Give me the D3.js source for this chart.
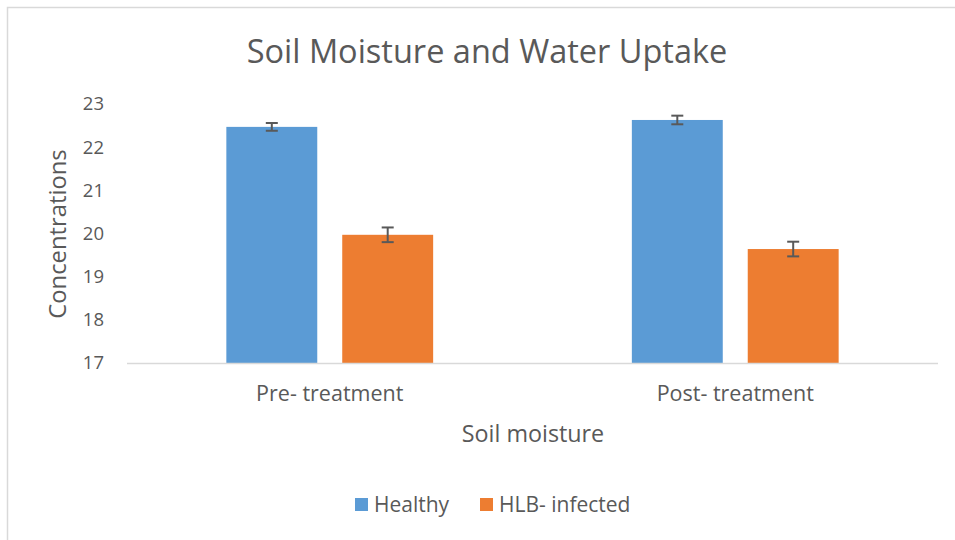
<!DOCTYPE html>
<html>
<head>
<meta charset="utf-8">
<script src="https://cdn.jsdelivr.net/npm/d3@7"></script>
<style>
  body { margin: 0; background: #fff; }
  text { font-family: "Open Sans", sans-serif; fill: #595959; }
</style>
</head>
<body>
<div id="chart"></div>
<script>
var categories = ["Pre- treatment", "Post- treatment"];
var seriesNames = ["Healthy", "HLB- infected"];
var healthy = [22.47, 22.63];
var infected = [19.97, 19.64];
var healthyErr = [0.09, 0.10];
var infectedErr = [0.17, 0.17];
var yTicks = [17, 18, 19, 20, 21, 22, 23];

var colors = ["#5b9bd5", "#ed7d31"];
var W = 955, H = 540;
var margin = { left: 127, right: 17, top: 104, bottom: 177 };

var svg = d3.select("#chart").append("svg")
    .attr("width", W).attr("height", H);

// chart frame
svg.append("rect")
    .attr("x", 7.5).attr("y", 7.5)
    .attr("width", W + 10).attr("height", H + 10)
    .attr("fill", "none").attr("stroke", "#d9d9d9").attr("stroke-width", 1.5);

var x0 = d3.scaleBand().domain(categories)
    .range([margin.left, W - margin.right]);
var off = x0.bandwidth() * 0.245;
var x1 = d3.scaleBand().domain(seriesNames)
    .range([off, x0.bandwidth() - off]).paddingInner(0.2155);
var y = d3.scaleLinear().domain([17, 23])
    .range([H - margin.bottom, margin.top]);

var data = categories.map(function(c, i) {
    return [
        { cat: c, s: seriesNames[0], v: healthy[i], e: healthyErr[i], col: colors[0] },
        { cat: c, s: seriesNames[1], v: infected[i], e: infectedErr[i], col: colors[1] }
    ];
});

var g = svg.append("g");
data.forEach(function(grp) {
    grp.forEach(function(d) {
        var bx = x0(d.cat) + x1(d.s);
        g.append("rect")
            .attr("x", bx).attr("y", y(d.v))
            .attr("width", x1.bandwidth()).attr("height", y(17) - y(d.v))
            .attr("fill", d.col);
        var cx = bx + x1.bandwidth() / 2;
        var eg = g.append("g").attr("stroke", "#595959").attr("stroke-width", 2);
        eg.append("line").attr("x1", cx).attr("x2", cx)
            .attr("y1", y(d.v + d.e)).attr("y2", y(d.v - d.e));
        eg.append("line").attr("x1", cx - 6).attr("x2", cx + 6)
            .attr("y1", y(d.v + d.e)).attr("y2", y(d.v + d.e));
        eg.append("line").attr("x1", cx - 6).attr("x2", cx + 6)
            .attr("y1", y(d.v - d.e)).attr("y2", y(d.v - d.e));
    });
});

// x axis line
svg.append("line")
    .attr("x1", margin.left).attr("x2", W - margin.right)
    .attr("y1", y(17) + 0.5).attr("y2", y(17) + 0.5)
    .attr("stroke", "#d9d9d9").attr("stroke-width", 1.5);

// y tick labels
svg.selectAll(".ytick").data(yTicks).enter().append("text")
    .attr("class", "ytick")
    .attr("x", 104).attr("y", function(d) { return y(d); })
    .attr("dy", "0.35em").attr("text-anchor", "end")
    .attr("font-size", 18.5)
    .text(function(d) { return d; });

// x tick labels
svg.selectAll(".xtick").data(categories).enter().append("text")
    .attr("class", "xtick")
    .attr("x", function(d) { return x0(d) + x0.bandwidth() / 2; })
    .attr("y", 401).attr("text-anchor", "middle")
    .attr("font-size", 21.5)
    .text(function(d) { return d; });

// title
svg.append("text")
    .attr("x", 487).attr("y", 63).attr("text-anchor", "middle")
    .attr("font-size", 32.5)
    .text("Soil Moisture and Water Uptake");

// axis titles
svg.append("text")
    .attr("x", 533).attr("y", 442).attr("text-anchor", "middle")
    .attr("font-size", 23.3)
    .text("Soil moisture");
svg.append("text")
    .attr("transform", "translate(66,234) rotate(-90)")
    .attr("text-anchor", "middle")
    .attr("font-size", 23.8)
    .text("Concentrations");

// legend
var legX = [355, 480];
var leg = svg.selectAll(".leg").data(seriesNames).enter().append("g")
    .attr("class", "leg")
    .attr("transform", function(d, i) { return "translate(" + legX[i] + ",498)"; });
leg.append("rect").attr("width", 13).attr("height", 13)
    .attr("fill", function(d, i) { return colors[i]; });
leg.append("text").attr("x", 19).attr("y", 14)
    .attr("font-size", 21)
    .text(function(d) { return d; });
</script>
</body>
</html>
